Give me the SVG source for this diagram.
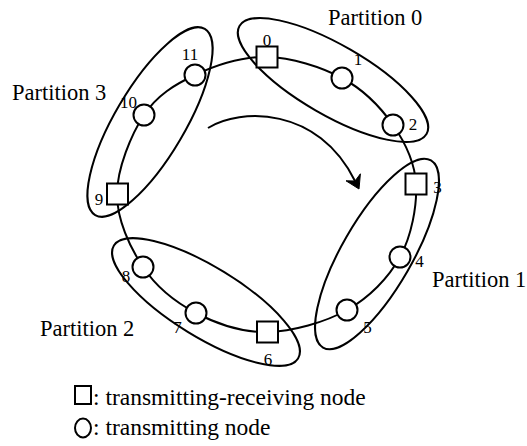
<svg xmlns="http://www.w3.org/2000/svg" width="527" height="446" viewBox="0 0 527 446">
<style>
.ln{fill:none;stroke:#000;stroke-width:2}
.nd{fill:#fff;stroke:#000;stroke-width:2}
.num{font-family:"Liberation Serif","Times New Roman",serif;font-size:17px;text-anchor:middle;fill:#000}
.lbl{font-family:"Liberation Serif","Times New Roman",serif;font-size:22.5px;fill:#000}
.leg{font-family:"Liberation Serif","Times New Roman",serif;font-size:23.5px;fill:#000}
</style>
<rect width="527" height="446" fill="#fff"/>
<g id="connectors">
<path id="ring" class="ln" d="M267,57 C291.5,57.5 321,66.67 342,78 C363,89.33 380.67,107.33 393,125 C405.33,142.67 414.83,162 416,184 C417.17,206 411.5,236 400,257 C388.5,278 369.17,297.5 347,310 C324.83,322.5 292.17,331.5 267,332 C241.83,332.5 216.67,323.83 196,313 C175.33,302.17 156.17,286.83 143,267 C129.83,247.17 116.83,219.33 117,194 C117.17,168.67 131,134.83 144,115 C157,95.17 174.5,84.67 195,75 C215.5,65.33 242.5,56.5 267,57 Z"/>
<path id="flow-arrow" class="ln" d="M208,128 C240,108 318,106 355,181"/>
<path d="M359,189 L346,180.8 L355,181 L360.4,173.8 Z" fill="#000" stroke="#000" stroke-width="1" stroke-linejoin="miter"/>
</g>
<g id="partition0">
<ellipse class="ln" cx="333" cy="80" rx="108" ry="35" transform="rotate(30 333 80)"/>
<text class="lbl" x="328" y="25">Partition 0</text>
</g>
<g id="partition1">
<ellipse class="ln" cx="377" cy="254" rx="108" ry="35" transform="rotate(-60 377 254)"/>
<text class="lbl" x="432" y="287">Partition 1</text>
</g>
<g id="partition2">
<ellipse class="ln" cx="206" cy="302" rx="108" ry="35" transform="rotate(31.5 206 302)"/>
<text class="lbl" x="40" y="336">Partition 2</text>
</g>
<g id="partition3">
<ellipse class="ln" cx="150" cy="122" rx="108" ry="35" transform="rotate(-59.5 150 122)"/>
<text class="lbl" x="12" y="100">Partition 3</text>
</g>
<g id="node0"><rect class="nd" x="256.5" y="46.5" width="21" height="21"/><text class="num" x="267" y="46">0</text></g>
<g id="node1"><circle class="nd" cx="342" cy="78" r="10.5"/><text class="num" x="358" y="65">1</text></g>
<g id="node2"><circle class="nd" cx="393" cy="125" r="10.5"/><text class="num" x="413" y="130">2</text></g>
<g id="node3"><rect class="nd" x="405.5" y="173.5" width="21" height="21"/><text class="num" x="437.5" y="193">3</text></g>
<g id="node4"><circle class="nd" cx="400" cy="257" r="10.5"/><text class="num" x="419.5" y="267">4</text></g>
<g id="node5"><circle class="nd" cx="347" cy="310" r="10.5"/><text class="num" x="367.5" y="333">5</text></g>
<g id="node6"><rect class="nd" x="257" y="321.5" width="21" height="21"/><text class="num" x="268" y="365">6</text></g>
<g id="node7"><circle class="nd" cx="196" cy="313" r="10.5"/><text class="num" x="177.5" y="333">7</text></g>
<g id="node8"><circle class="nd" cx="143" cy="267" r="10.5"/><text class="num" x="126" y="282">8</text></g>
<g id="node9"><rect class="nd" x="107" y="183.5" width="21" height="21"/><text class="num" x="99" y="205">9</text></g>
<g id="node10"><circle class="nd" cx="144" cy="115" r="10.5"/><text class="num" x="128.5" y="108">10</text></g>
<g id="node11"><circle class="nd" cx="195" cy="75" r="10.5"/><text class="num" x="190" y="60">11</text></g>
<g id="legend">
<rect class="nd" x="75" y="386" width="16" height="18"/>
<text class="leg" x="93" y="405">: transmitting-receiving node</text>
<ellipse class="nd" cx="83" cy="428" rx="8" ry="9.5"/>
<text class="leg" x="93" y="435">: transmitting node</text>
</g>
</svg>
